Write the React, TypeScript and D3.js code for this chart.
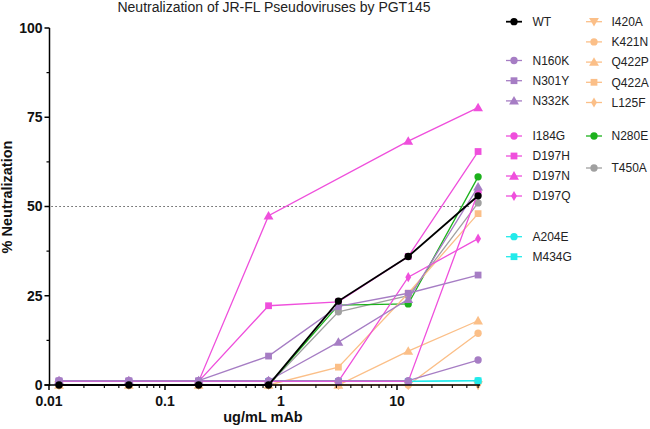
import React from "react";
import * as d3 from "d3";

// ---------- data ----------
const doses = [0.0122, 0.0488, 0.195, 0.781, 3.125, 12.5, 50];

const WT = [0, 0, 0, 0, 23.5, 36, 53];
const N160K = [1.2, 1.2, 1.2, 1.2, 1.2, 1.2, 7];
const N301Y = [1.2, 1.2, 1.2, 8.1, 22, 25.7, 30.8];
const N332K = [1.2, 1.2, 1.2, 1.2, 12, 24, 55.5];
const I184G = [1, 1, 1, 1, 1, 1, 54];
const D197H = [1, 1, 1, 22.2, 23.3, 36, 65.4];
const D197N = [1, 1, 1, 47.4, null, 68.3, 77.7];
const D197Q = [1, 1, 1, 1, 1, 30.2, 41];
const A204E = [1, 1, 1, 1, 1, 1, 1.2];
const M434G = [1, 1, 1, 1, 1, 1, 1.2];
const I420A = [0, 0, 0, 0, 0, 0, 0];
const K421N = [0, 0, 0, 0, 0, 0, 14.5];
const Q422P = [0, 0, 0, 0, 0, 9.5, 18];
const Q422A = [0, 0, 0, 0, 5, 25.7, 48];
const L125F = [0, 0, 0, 0, 0, 0, 0];
const N280E = [0, 0, 0, 0, 22.4, 22.7, 58.3];
const T450A = [0, 0, 0, 0, 20.5, 25, 51];

const seriesNames = [
  "WT", "N160K", "N301Y", "N332K", "I184G", "D197H", "D197N", "D197Q",
  "A204E", "M434G", "I420A", "K421N", "Q422P", "Q422A", "L125F", "N280E", "T450A",
];
const seriesValues = [
  WT, N160K, N301Y, N332K, I184G, D197H, D197N, D197Q,
  A204E, M434G, I420A, K421N, Q422P, Q422A, L125F, N280E, T450A,
];
const seriesColors = [
  "#000000", "#a67dc4", "#a67dc4", "#a67dc4", "#ef4fdc", "#ef4fdc", "#ef4fdc", "#ef4fdc",
  "#22eaea", "#22eaea", "#fbbf88", "#fbbf88", "#fbbf88", "#fbbf88", "#fbbf88", "#1cb21c", "#a0a0a0",
];
const seriesShapes = [
  "circle", "circle", "square", "triangle", "circle", "square", "triangle", "diamond",
  "circle", "square", "down", "circle", "triangle", "square", "diamond", "circle", "circle",
];

const xTickValues = [0.01, 0.1, 1, 10];
const xTickLabels = ["0.01", "0.1", "1", "10"];
const yTickValues = [0, 25, 50, 75, 100];
const yMinorTicks = [12.5, 37.5, 62.5, 87.5];

const title = "Neutralization of JR-FL Pseudoviruses by PGT145";
const xTitle = "ug/mL mAb";
const yTitle = "% Neutralization";
const refValue = 50;

// ---------- layout ----------
const W = 650;
const H = 429;
const plotLeft = 49.5;
const plotBottom = 385;
const plotTop = 28;

const x = d3.scaleLog().domain([0.01, 1]).range([49, 281]);
const y = d3.scaleLinear().domain([0, 100]).range([plotBottom, plotTop]);
const xAxisEnd = 50;

// legend layout: column 1 then column 2
const legendCol1 = [21.7, 60.5, 80.7, 100.9, 136, 156, 176, 196, 236.7, 256.7];
const legendCol2 = [21.7, 41.9, 62.1, 82.3, 102.5, 136, 168];

function symbolPath(shape: string, size: number) {
  const t =
    shape === "square" ? d3.symbolSquare :
    shape === "triangle" || shape === "down" ? d3.symbolTriangle :
    shape === "diamond" ? d3.symbolDiamond : d3.symbolCircle;
  return d3.symbol().type(t).size(size)() as string;
}
const shapeSize: Record<string, number> = {
  circle: 42, square: 46, triangle: 42, down: 42, diamond: 30,
};

function Marker({ shape, color, cx, cy }: any) {
  const rot = shape === "down" ? " rotate(180)" : "";
  const dy = shape === "triangle" ? 0.8 : shape === "down" ? -0.8 : 0;
  return (
    <path
      d={symbolPath(shape, shapeSize[shape])}
      transform={`translate(${cx},${cy + dy})${rot}`}
      fill={color}
      stroke="none"
    />
  );
}

export default function App() {
  const minorX: number[] = [];
  for (const d of xTickValues) {
    for (let m = 2; m <= 9; m++) {
      const v = d * m;
      if (v <= xAxisEnd) minorX.push(v);
    }
  }

  const line = d3
    .line<[number, number]>()
    .x((d) => x(d[0]))
    .y((d) => y(d[1]));

  const order = seriesNames.map((_, i) => i).reverse();

  const font = "'Liberation Sans', Arial, sans-serif";

  return (
    <div style={{ position: "absolute", left: 0, top: 0 }}>
      <svg width={W} height={H} style={{ display: "block", background: "#fff" }} fontFamily={font}>
        {/* title */}
        <text x={274} y={12} textAnchor="middle" fontSize={14} fill="#222">
          {title}
        </text>

        {/* reference line */}
        <line
          x1={x(0.0105)}
          x2={x(42)}
          y1={y(refValue)}
          y2={y(refValue)}
          stroke="#333"
          strokeWidth={1.2}
          strokeDasharray="1.2,2.8"
        />

        {/* series */}
        {order.map((i) => {
          const pts = doses
            .map((d, k) => [d, seriesValues[i][k]] as [number, number | null])
            .filter((p) => p[1] !== null) as [number, number][];
          const color = seriesColors[i];
          return (
            <g key={seriesNames[i]}>
              <path
                d={line(pts) as string}
                fill="none"
                stroke={color}
                strokeWidth={i === 0 ? 1.8 : 1.3}
              />
              {pts.map((p, k) => (
                <Marker key={k} shape={seriesShapes[i]} color={color} cx={x(p[0])} cy={y(p[1])} />
              ))}
            </g>
          );
        })}

        {/* y axis */}
        <line x1={plotLeft} x2={plotLeft} y1={y(100)} y2={plotBottom + 1} stroke="#000" strokeWidth={1.5} />
        {yTickValues.map((v) => (
          <g key={v}>
            <line x1={plotLeft - 5} x2={plotLeft} y1={y(v)} y2={y(v)} stroke="#000" strokeWidth={1.5} />
            <text
              x={plotLeft - 7}
              y={y(v)}
              dy="0.34em"
              textAnchor="end"
              fontSize={14}
              fontWeight="bold"
              fill="#111"
            >
              {v}
            </text>
          </g>
        ))}
        {yMinorTicks.map((v) => (
          <line key={v} x1={plotLeft - 3} x2={plotLeft} y1={y(v)} y2={y(v)} stroke="#000" strokeWidth={1.2} />
        ))}

        {/* x axis */}
        <line x1={plotLeft - 5} x2={x(xAxisEnd) + 2} y1={plotBottom} y2={plotBottom} stroke="#000" strokeWidth={1.5} />
        {xTickValues.map((v, k) => (
          <g key={v}>
            <line x1={x(v)} x2={x(v)} y1={plotBottom} y2={plotBottom + 5} stroke="#000" strokeWidth={1.5} />
            <text x={x(v)} y={406} textAnchor="middle" fontSize={14} fontWeight="bold" fill="#111">
              {xTickLabels[k]}
            </text>
          </g>
        ))}
        {minorX.map((v) => (
          <line key={v} x1={x(v)} x2={x(v)} y1={plotBottom} y2={plotBottom + 3} stroke="#000" strokeWidth={1.1} />
        ))}

        {/* axis titles */}
        <text x={263} y={422} textAnchor="middle" fontSize={14.5} fontWeight="bold" fill="#111">
          {xTitle}
        </text>
        <text
          transform={`translate(12,197) rotate(-90)`}
          textAnchor="middle"
          fontSize={14.5}
          fontWeight="bold"
          fill="#111"
        >
          {yTitle}
        </text>

        {/* legend */}
        {seriesNames.map((name, i) => {
          const col = i < legendCol1.length ? 0 : 1;
          const row = col === 0 ? i : i - legendCol1.length;
          const ly = col === 0 ? legendCol1[row] : legendCol2[row];
          const mx = col === 0 ? 514 : 594;
          const tx = col === 0 ? 532.5 : 611.5;
          const color = seriesColors[i];
          return (
            <g key={name}>
              <line x1={mx - 8} x2={mx + 8} y1={ly} y2={ly} stroke={color} strokeWidth={i === 0 ? 1.8 : 1.3} />
              <Marker shape={seriesShapes[i]} color={color} cx={mx} cy={ly} />
              <text x={tx} y={ly} dy="0.36em" fontSize={12} fill="#222">
                {name}
              </text>
            </g>
          );
        })}
      </svg>
    </div>
  );
}
